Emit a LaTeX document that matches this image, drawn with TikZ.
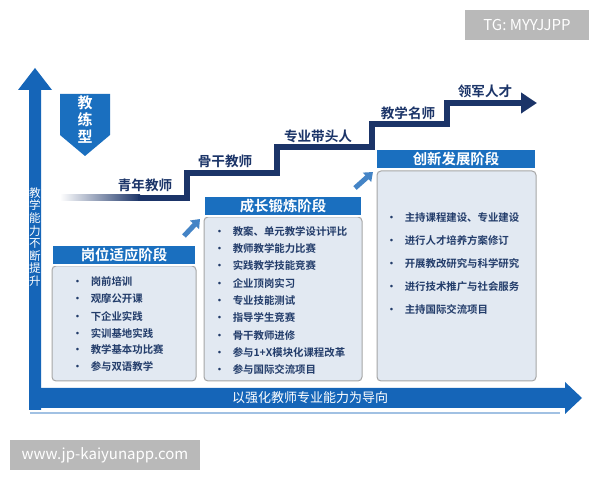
\documentclass[tikz,border=0pt]{standalone}
\usepackage{fontspec}
\setmainfont{Noto Sans CJK SC}
\newfontfamily\cjkb{Noto Sans CJK SC Bold}
\usetikzlibrary{arrows.meta,shapes.geometric}
\definecolor{navy}{HTML}{1B3468}
\definecolor{hblue}{HTML}{1A6FBF}
\definecolor{abl}{HTML}{1565B8}
\definecolor{bodyc}{HTML}{E2E9F2}
\definecolor{txt}{HTML}{223C6A}
\tikzset{
 hdr/.style={fill=hblue,draw=white,line width=0.6pt,text=white,font=\cjkb\fontsize{7.2}{8}\selectfont,minimum height=10pt,inner sep=0pt},
 bod/.style={fill=bodyc,draw=gray!70,rounded corners=2pt,line width=0.5pt},
 itm/.style={anchor=west,text=txt,font=\cjkb\fontsize{5.2}{6}\selectfont,inner sep=0pt},
 lvl/.style={text=navy,font=\cjkb\fontsize{6.8}{8}\selectfont,inner sep=0pt},
 wm/.style={fill=gray!55,text=white,font=\fontsize{7.5}{9}\selectfont,inner sep=0pt},
 sarr/.style={-{Triangle[length=4pt,width=6pt]},line width=2.5pt,draw=abl!80},
}
\begin{document}
\begin{tikzpicture}[x=0.5pt,y=-0.5pt]
\useasboundingbox (0,0) rectangle (600,480);
\fill[white] (0,0) rectangle (600,480);
% watermarks
\node[wm,minimum width=62pt,minimum height=15pt] (tg) at (527,25) {TG: MYYJJPP};
\node[wm,minimum width=95pt,minimum height=15pt] (www) at (105,455) {www.jp-kaiyunapp.com};
% vertical arrow
\fill[abl] (29,410) -- (29,90) -- (18,90) -- (35,68) -- (52,90) -- (41,90) -- (41,410) -- cycle;
\node[text=white,font=\fontsize{5.8}{6.3}\selectfont,align=center,inner sep=0pt] (vt) at (35,237) {教\\学\\能\\力\\不\\断\\提\\升};
% horizontal arrow
\fill[abl] (30,388) -- (565,388) -- (565,382) -- (582,398) -- (565,414) -- (565,408) -- (30,408) -- cycle;
\draw[abl!40,line width=0.8pt] (30,413) -- (560,413);
\node[text=white,font=\fontsize{6.5}{8}\selectfont] (ht) at (310,398) {以强化教师专业能力为导向};
% badge
\fill[hblue] (60,94) -- (110,94) -- (110,135) -- (85,156) -- (60,135) -- cycle;
\node[text=white,font=\cjkb\fontsize{7.5}{8.5}\selectfont,align=center,inner sep=0pt] (badge) at (85,120) {教\\练\\型};
% staircase
\shade[left color=white,right color=navy] (60,195) rectangle (140,201);
\draw[navy,line width=3pt,-{Triangle[length=8pt,width=10pt]}] (138,198) -- (187,198) -- (187,173) -- (277,173) -- (277,147) -- (372,147) -- (372,124) -- (447,124) -- (447,103) -- (537,103);
\node[lvl] (l1) at (145,185) {青年教师};
\node[lvl] (l2) at (225,161) {骨干教师};
\node[lvl] (l3) at (318,136) {专业带头人};
\node[lvl] (l4) at (408,113) {教学名师};
\node[lvl] (l5) at (485,91) {领军人才};
% box1
\draw[bod] (52,266) rectangle (196,381);
\node[hdr,minimum width=72pt] (h1) at (124,255) {岗位适应阶段};
\foreach \t [count=\i] in {岗前培训,观摩公开课,下企业实践,实训基地实践,教学基本功比赛,参与双语教学}
  \node[itm] at (72,265+17*\i) {•\hspace{4pt}\t};
% box2
\draw[bod] (204,217) rectangle (362,381);
\node[hdr,minimum width=79pt] (h2) at (283,206) {成长锻炼阶段};
\foreach \t [count=\i] in {教案、单元教学设计评比,教师教学能力比赛,实践教学技能竞赛,企业顶岗实习,专业技能测试,指导学生竞赛,骨干教师进修,参与1+X模块化课程改革,参与国际交流项目}
  \node[itm] at (214,214+17.3*\i) {•\hspace{4pt}\t};
% box3
\draw[bod] (377,171) rectangle (536,381);
\node[hdr,minimum width=79.5pt] (h3) at (456,159) {创新发展阶段};
\foreach \t [count=\i] in {主持课程建设、专业建设,进行人才培养方案修订,开展教改研究与科学研究,进行技术推广与社会服务,主持国际交流项目}
  \node[itm] at (386,195+22.8*\i) {•\hspace{4pt}\t};
% small arrows
\coordinate (a1) at (184,236); \coordinate (b1) at (200,219);
\coordinate (a2) at (355,188); \coordinate (b2) at (373,172);
\draw[sarr] (a1) -- (b1);
\draw[sarr] (a2) -- (b2);
\end{tikzpicture}
\end{document}
